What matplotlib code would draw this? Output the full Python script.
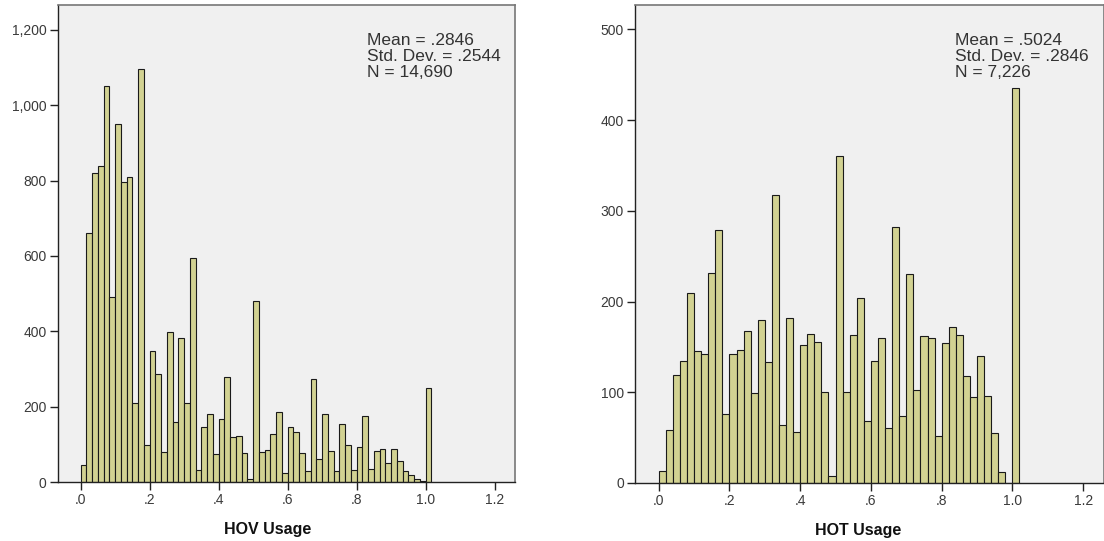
import numpy as np
import matplotlib
matplotlib.use("Agg")
import matplotlib.pyplot as plt
from matplotlib.ticker import FuncFormatter, MultipleLocator

plt.rcParams['font.family'] = ['Liberation Sans', 'DejaVu Sans']

# HOV usage: counts per bin of width 1/60, starting at 0
hov_bin_width = 1 / 60
hov_counts = [45, 660, 819, 840, 1051, 492, 949, 797, 809, 209, 1096, 98,
              349, 286, 79, 398, 160, 381, 209, 594, 32, 145, 180, 73,
              166, 280, 119, 122, 78, 9, 480, 79, 85, 127, 186, 25,
              145, 134, 78, 28, 273, 60, 180, 81, 28, 153, 98, 32,
              92, 176, 34, 81, 87, 50, 88, 56, 29, 19, 7, 2, 250]
hov_stats = ["Mean = .2846", "Std. Dev. = .2544", "N = 14,690"]

# HOT usage: counts per bin of width 1/50, starting at 0
hot_bin_width = 1 / 50
hot_counts = [13, 58, 119, 134, 209, 145, 142, 231, 279, 76,
              142, 147, 168, 99, 180, 133, 318, 64, 182, 56,
              152, 164, 155, 100, 8, 360, 100, 163, 204, 68,
              134, 160, 61, 282, 74, 230, 102, 162, 160, 52,
              154, 172, 163, 118, 95, 140, 96, 55, 12, 0, 436]
hot_stats = ["Mean = .5024", "Std. Dev. = .2846", "N = 7,226"]

x_ticks = [0.0, 0.2, 0.4, 0.6, 0.8, 1.0, 1.2]

BAR = "#D2D292"
PANEL = "#F0F0F0"
TICKC = "#3a3a3a"

fig = plt.figure(figsize=(11.04, 5.41), dpi=100)
fig.patch.set_facecolor("white")


def fmt_x(v, _):
    s = f"{v:.1f}"
    return s[1:] if s.startswith("0") else s


def fmt_y(v, _):
    return f"{int(round(v)):,}"


def draw(rect, counts, width, ymax, ystep, stats, title, stats_x, title_x):
    ax = fig.add_axes(rect)
    ax.set_facecolor(PANEL)
    counts = np.asarray(counts, dtype=float)
    left = np.arange(len(counts)) * width
    ax.bar(left, counts, width=width, align="edge", color=BAR,
           edgecolor="#1a1a1a", linewidth=0.8)
    ax.set_xlim(-0.067, 1.259)
    ax.set_ylim(0, ymax)
    ax.set_xticks(x_ticks)
    ax.xaxis.set_major_formatter(FuncFormatter(fmt_x))
    ax.yaxis.set_major_locator(MultipleLocator(ystep))
    ax.yaxis.set_major_formatter(FuncFormatter(fmt_y))
    ax.tick_params(axis="both", direction="out", length=6, width=1.0,
                   color="#222222", labelcolor=TICKC, labelsize=10, pad=2)
    for side in ("top", "right"):
        ax.spines[side].set_color("#777777")
        ax.spines[side].set_linewidth(1.2)
    for side in ("left", "bottom"):
        ax.spines[side].set_color("#222222")
        ax.spines[side].set_linewidth(1.0)
    for i, line in enumerate(stats):
        ax.text(stats_x, 0.916 - i * 0.0335, line, transform=ax.transAxes,
                fontsize=12.5, color="#333333", va="baseline", ha="left")
    ax.text(title_x, -0.109, title, transform=ax.transAxes, fontsize=11.5,
            fontweight="bold", color="#111111", ha="center", va="baseline")
    return ax


draw([57.5 / 1104, 1 - 482 / 541, 457.5 / 1104, 477 / 541],
     hov_counts, hov_bin_width, 1266, 200, hov_stats, "HOV Usage", 0.676, 0.46)
draw([635 / 1104, 1 - 483 / 541, 469 / 1104, 478 / 541],
     hot_counts, hot_bin_width, 527, 100, hot_stats, "HOT Usage", 0.682, 0.475)

fig.savefig("out.png", dpi=100, facecolor="white")
